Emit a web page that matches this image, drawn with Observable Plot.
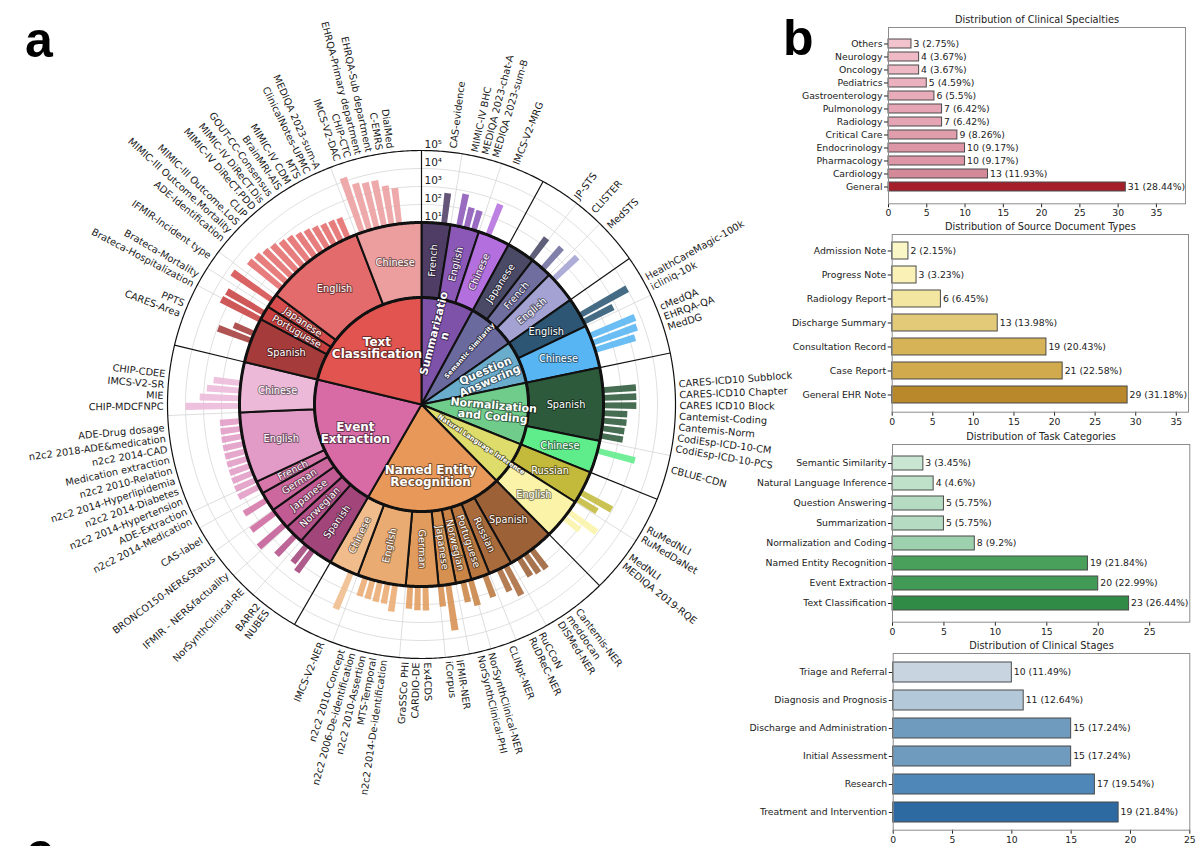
<!DOCTYPE html>
<html>
<head>
<meta charset="utf-8">
<script src="https://cdn.jsdelivr.net/npm/d3@7"></script>
<script src="https://cdn.jsdelivr.net/npm/@observablehq/plot@0.6"></script>
<style>
html,body{margin:0;padding:0;background:#fff}
body{width:1200px;height:846px;position:relative;overflow:hidden;font-family:"DejaVu Sans",sans-serif}
.pane{position:absolute}
</style>
</head>
<body>
<div id="sun" class="pane" style="left:0;top:0"></div>
<div id="c1" class="pane"></div>
<div id="c2" class="pane"></div>
<div id="c3" class="pane"></div>
<div id="c4" class="pane"></div>
<svg class="pane" style="left:0;top:0;pointer-events:none" width="1200" height="846">
  <g font-family="Liberation Sans, Arial, sans-serif" font-weight="bold" font-size="50" fill="#000">
    <text x="25" y="57">a</text>
    <text x="783" y="55">b</text>
    <text x="26" y="868">c</text>
  </g>
</svg>
<script>
// ===================== Panel a data =====================
const tasks = ["Summarization","Semantic Similarity","Question Answering","Normalization and Coding",
  "Natural Language Inference","Named Entity Recognition","Event Extraction","Text Classification"];
const taskLabels = ["Summarizatio\nn","Semantic Similarity","Question\nAnswering","Normalization\nand Coding",
  "Natural Language Inference","Named Entity\nRecognition","Event\nExtraction","Text\nClassification"];
const taskColors = ["#7d52a8","#6b6a9e","#6aaccc","#6fcc8b","#dedd6c","#e8995a","#d86aa6","#e2544f"];

const langTask = [0,0,0, 1,1,1, 2,2, 3,3, 4,4, 5,5,5,5,5,5,5,5, 6,6,6,6,6,6,6, 7,7,7,7,7];
const langNames = ["French","English","Chinese", "Japanese","French","English", "English","Chinese",
  "Spanish","Chinese", "Russian","English",
  "Spanish","Russian","Portuguese","Norwegian","Japanese","German","English","Chinese",
  "Spanish","Norwegian","Japanese","German","French","English","Chinese",
  "Spanish","Portuguese","Japanese","English","Chinese"];
const langSpan = [9.2,9.2,10.2, 9,7,10.3, 9.6,13.8, 23.3,10.3, 10.5,13.1,
  15,7.6,6,5,5.5,10.4,15.5,9.5,
  11.5,6.2,6.9,6.3,4,22.6,16,
  14.5,4.5,4.5,32,21];
const langColors = ["#4f3d66","#8b58b8","#b46fde", "#4a4966","#6f6e9f","#a3a2d2", "#2c5674","#57b5f3",
  "#2d5a3b","#5fec8a", "#c3b93b","#fbf4a8",
  "#9c6137","#aa6b3c","#b9773f","#c98446","#d69050","#e19c5d","#eaab72","#f0bc8c",
  "#a2457b","#b35088","#c25b94","#cd689e","#d676a9","#e29bc6","#ecb9d9",
  "#a53b3b","#c84141","#d54d4d","#e46b6b","#ec9e9e"];

const datasetNames = [
  ["CAS-evidence"],
  ["MIMIC-IV BHC","MEDIQA 2023-chat-A","MEDIQA 2023-sum-B"],
  ["IMCS-V2-MRG"],
  ["JP-STS"],
  ["CLISTER"],
  ["MedSTS"],
  ["HealthCareMagic-100k","icliniq-10k"],
  ["cMedQA","EHRQA-QA","MedDG"],
  ["CARES-ICD10 Subblock","CARES-ICD10 Chapter","CARES ICD10 Block","Cantemist-Coding","Cantemis-Norm","CodiEsp-ICD-10-CM","CodiEsp-ICD-10-PCS"],
  ["CBLUE-CDN"],
  ["RuMedNLI","RuMedDaNet"],
  ["MedNLI","MEDIQA 2019-RQE"],
  ["Cantemis-NER","meddocan","DISMed-NER"],
  ["RuCCoN","RuDReC-NER"],
  ["CLINpt-NER"],
  ["NorSynthClinical-NER","NorSynthClinical-PHI"],
  ["IFMIR-NER","iCorpus"],
  ["Ex4CDS","CARDIO-DE","GraSSCo PHI"],
  ["n2c2 2014-De-identification","MTS-Temporal","n2c2 2010-Assertion","n2c2 2006-De-identification","n2c2 2010-Concept"],
  ["IMCS-V2-NER"],
  ["NUBES","BARR2"],
  ["NorSynthClinical-RE"],
  ["IFMIR - NER&factuality"],
  ["BRONCO150-NER&Status"],
  ["CAS-label"],
  ["n2c2 2014-Medication","ADE-Extraction","n2c2 2014-Hypertension","n2c2 2014-Diabetes","n2c2 2014-Hyperlipidemia","n2c2 2010-Relation","Medication extraction","n2c2 2014-CAD","n2c2 2018-ADE&medication","ADE-Drug dosage"],
  ["CHIP-MDCFNPC","MIE","IMCS-V2-SR","CHIP-CDEE"],
  ["CARES-Area","PPTS"],
  ["Brateca-Hospitalization","Brateca-Mortality"],
  ["IFMIR-Incident type"],
  ["ADE-Identification","MIMIC-III Outcome.Mortality","MIMIC-III Outcome.LoS","CLIP","MIMIC-IV DiReCT.PDD","MIMIC-IV DiReCT.Dis","GOUT-CC-Consensus","BrainMRI-AIS","MIMIC-IV CDM","MTS","ClinicalNotes-UPMC","MEDIQA 2023-sum-A"],
  ["IMCS-V2-DAC","CHIP-CTC","EHRQA-Primary department","EHRQA-Sub department","C-EMRS","DialMed"]
];
const datasetSizes = [
  [520],
  [680,150,135],
  [680],
  [280],
  [370],
  [630],
  [10000,680],
  [5000,4000,2100],
  [690,680,670,215,210,180,175],
  [1400],
  [900,200],
  [850,125],
  [215,190,150],
  [680,225],
  [200],
  [300,145],
  [3700,150],
  [215,210,180],
  [330,140,138,125,120],
  [1600],
  [300,160],
  [310],
  [800],
  [430],
  [280],
  [190,180,170,160,155,150,148,145,140,135],
  [10000,1650,700,330],
  [900,160],
  [2800,2500],
  [5000],
  [2200,1800,1250,1000,700,560,400,320,250,200,180,160],
  [16000,5000,4000,3900,1600,1000]
];
const radialTicks = [10, 100, 1000, 10000, 100000];
const radialTickLabels = ["10\u00b9","10\u00b2","10\u00b3","10\u2074","10\u2075"];

// ===================== Panel b data =====================
const specCats = ["Others","Neurology","Oncology","Pediatrics","Gastroenterology","Pulmonology","Radiology","Critical Care","Endocrinology","Pharmacology","Cardiology","General"];
const specVals = [3,4,4,5,6,7,7,9,10,10,13,31];
const specPcts = ["2.75","3.67","3.67","4.59","5.5","6.42","6.42","8.26","9.17","9.17","11.93","28.44"];
const specColors = ["#f2c2cd","#efbac6","#eeb8c4","#ebb1be","#e8abb9","#e5a5b4","#e5a5b4","#e09dac","#dc96a5","#dc96a5","#d48999","#a51f2a"];

const docCats = ["Admission Note","Progress Note","Radiology Report","Discharge Summary","Consultation Record","Case Report","General EHR Note"];
const docVals = [2,3,6,13,19,21,29];
const docPcts = ["2.15","3.23","6.45","13.98","20.43","22.58","31.18"];
const docColors = ["#fbf6c5","#f9f1b6","#f2e6a1","#e3ca79","#d7b358","#d1aa4d","#b9882b"];

const taskCats = ["Semantic Similarity","Natural Language Inference","Question Answering","Summarization","Normalization and Coding","Named Entity Recognition","Event Extraction","Text Classification"];
const taskVals = [3,4,5,5,8,19,20,23];
const taskPcts = ["3.45","4.6","5.75","5.75","9.2","21.84","22.99","26.44"];
const taskBarColors = ["#c8e6d1","#c0e1c9","#b5dcc2","#b5dcc2","#9dd1ad","#48a05b","#419a55","#308b46"];

const stageCats = ["Triage and Referral","Diagnosis and Prognosis","Discharge and Administration","Initial Assessment","Research","Treatment and Intervention"];
const stageVals = [10,11,15,15,17,19];
const stagePcts = ["11.49","12.64","17.24","17.24","19.54","21.84"];
const stageColors = ["#c8d4df","#b3c9da","#6f9bbf","#6f9bbf","#4f87b8","#2c6aa1"];

const xMaxes = [38.8, 36.5, 28.9, 25];

// ===================== Panel a drawing =====================
const CX = 421, CY = 404, R_IN = 107, R_RING = 182, R_OUT = 254, R_TXT = 258, R_INNER_TXT = 72;
const R_FIT = 400;                       // projection frame radius (keeps outer labels inside the frame)
const W = CX + R_FIT + 10, H = 846;
const DOMAIN_DEG = 90, DEG = DOMAIN_DEG / R_FIT;
const lat = r => 90 - r * DEG;
const lon = t => 180 - t;
const rScale = d3.scaleLog().domain([10, 1e5]).range([R_RING, R_OUT]);

let acc = 0;
const langSegs = langNames.map((name, i) => {
  const t0 = acc; acc += langSpan[i];
  return {i, name, task: langTask[i], t0, t1: acc, mid: (t0 + acc) / 2, span: langSpan[i], color: langColors[i]};
});
const taskSegs = tasks.map((name, k) => {
  const s = langSegs.filter(d => d.task === k);
  const t0 = s[0].t0, t1 = s[s.length - 1].t1;
  return {k, name, label: taskLabels[k], t0, t1, mid: (t0 + t1) / 2, span: t1 - t0, color: taskColors[k]};
});

// bars: one slot per dataset, one empty slot between languages, centred on each task
const SLOT = 2.4, BAR_W = 1.8;
const bars = taskSegs.flatMap(t => {
  const items = [];
  let slot = 0;
  langSegs.filter(s => s.task === t.k).forEach((s, si) => {
    if (si > 0) slot += 1;
    datasetNames[s.i].forEach((name, j) => {
      items.push({name, size: datasetSizes[s.i][j], color: s.color, slot});
      slot += 1;
    });
  });
  const last = slot - 1;
  items.forEach(d => { d.theta = t.mid + (d.slot - last / 2) * SLOT; });
  return items;
});

function wedge(t0, t1, r0, r1, props) {
  const n = Math.max(2, Math.ceil(Math.abs(t1 - t0) / 0.5) + 1);
  const ts = d3.range(n).map(i => t0 + (t1 - t0) * i / (n - 1));
  const ring = [...ts.slice().reverse().map(t => [lon(t), lat(r0)]), ...ts.map(t => [lon(t), lat(r1)])];
  ring.push(ring[0].slice());
  const f = {type: "Feature", properties: props, geometry: {type: "Polygon", coordinates: [ring]}};
  if (d3.geoArea(f) > 2 * Math.PI) ring.reverse();
  return f;
}
const circle = r => d3.geoCircle().center([0, 90]).radius(r * DEG).precision(0.5)();

const barFeatures = bars.map(b => wedge(b.theta - BAR_W / 2, b.theta + BAR_W / 2, R_RING, rScale(b.size), {fill: b.color}));
const langFeatures = langSegs.map(s => wedge(s.t0, s.t1, R_IN, R_RING, {fill: s.color}));
const taskFeatures = taskSegs.map(s => wedge(s.t0, s.t1, 0.001, R_IN, {fill: s.color}));
const taskBounds = taskSegs.map(d => d.t0);
const langBounds = langSegs.filter(s => !taskBounds.includes(s.t0)).map(s => s.t0);

const langHoriz = s => {
  const sn = Math.abs(Math.sin(s.mid * Math.PI / 180));
  return (sn > 0.8 && s.span >= 9.5) || (sn > 0.55 && s.span >= 12) || s.span >= 20;
};
const radialRot = t => (t < 180 ? t - 90 : t - 270);
const maxLine = s => d3.max(s.split("\n"), l => l.length);

const sun = Plot.plot({
  width: W, height: H,
  marginLeft: CX - R_FIT, marginRight: W - CX - R_FIT, marginTop: CY - R_FIT, marginBottom: H - CY - R_FIT,
  projection: {type: "azimuthal-equidistant", rotate: [0, -90], domain: d3.geoCircle().center([0, 90]).radius(DOMAIN_DEG).precision(1)()},
  style: {fontFamily: "DejaVu Sans", overflow: "visible", background: "transparent"},
  marks: [
    Plot.geo([100, 1000, 10000].map(v => circle(rScale(v))), {fill: "none", stroke: "#d6d6d6", strokeWidth: 0.8}),
    Plot.link(langBounds, {x1: t => lon(t), y1: () => lat(R_RING), x2: t => lon(t), y2: () => lat(R_OUT), stroke: "#d6d6d6", strokeWidth: 0.8}),
    Plot.geo(barFeatures, {fill: d => d.properties.fill, fillOpacity: 0.88}),
    Plot.link(taskBounds, {x1: t => lon(t), y1: () => lat(R_RING), x2: t => lon(t), y2: () => lat(R_OUT), stroke: "#111", strokeWidth: 1.2}),
    Plot.geo([circle(R_OUT)], {fill: "none", stroke: "#111", strokeWidth: 1.2}),
    Plot.geo(langFeatures, {fill: d => d.properties.fill, stroke: "#111", strokeWidth: 2, strokeLinejoin: "round"}),
    Plot.geo(taskFeatures, {fill: d => d.properties.fill, stroke: "#111", strokeWidth: 2, strokeLinejoin: "round"}),
    Plot.geo([circle(R_RING), circle(R_IN)], {fill: "none", stroke: "#111", strokeWidth: 3}),
    Plot.text(radialTicks, {x: () => lon(0), y: v => lat(rScale(v) + 6), text: (v, i) => radialTickLabels[i],
      textAnchor: "start", dx: 3, fontSize: 10.5, fill: "#222"}),
    Plot.text(bars.filter(b => b.theta < 180), {x: b => lon(b.theta), y: () => lat(R_TXT), text: "name",
      rotate: b => b.theta - 90, textAnchor: "start", fontSize: 9.8, fill: "#1a1a1a"}),
    Plot.text(bars.filter(b => b.theta >= 180), {x: b => lon(b.theta), y: () => lat(R_TXT), text: "name",
      rotate: b => b.theta - 270, textAnchor: "end", fontSize: 9.8, fill: "#1a1a1a"}),
    Plot.text(langSegs, {x: s => lon(s.mid), y: () => lat((R_IN + R_RING) / 2), text: "name",
      rotate: s => langHoriz(s) ? 0 : radialRot(s.mid), fontSize: 9.8,
      fill: "white", stroke: "rgba(0,0,0,0.45)", strokeWidth: 2, paintOrder: "stroke"}),
    Plot.text(taskSegs, {x: d => lon(d.mid), y: () => lat(R_INNER_TXT), text: "label",
      rotate: d => d.span >= 40 ? 0 : radialRot(d.mid),
      fontSize: d => maxLine(d.label) > 15 ? 6.5 : (d.span >= 40 ? 12 : 11), fontWeight: "bold",
      fill: "white", stroke: "rgba(0,0,0,0.5)", strokeWidth: 2, paintOrder: "stroke"})
  ]
});
document.getElementById("sun").append(sun);

// ===================== Panel b drawing =====================
function barChart(id, o) {
  const data = o.cats.map((c, i) => ({c, v: o.vals[i], p: o.pcts[i], col: o.colors[i]}));
  const mt = 22, mb = 22, left = 740, n = o.cats.length;
  const [fl, fr, ft, fb] = o.frame;
  const el = document.getElementById(id);
  el.style.left = left + "px";
  el.style.top = (ft - mt) + "px";
  el.append(Plot.plot({
    width: 1200 - left, height: fb - ft + mt + mb,
    marginLeft: fl - left, marginRight: 1200 - fr, marginTop: mt, marginBottom: mb,
    style: {fontFamily: "DejaVu Sans", fontSize: "9.3px", background: "transparent", overflow: "visible", color: "#222"},
    x: {domain: [0, o.xMax], ticks: d3.range(0, o.xMax + 0.01, 5), tickFormat: d3.format("d"), tickSize: 4, tickPadding: 2, label: null},
    y: {domain: o.cats, paddingInner: 0.3, paddingOuter: 0.05 * (n - 0.3), tickSize: 4, tickPadding: 2, label: null},
    marks: [
      Plot.barX(data, {x: "v", y: "c", fill: "col", stroke: "#4a4a4a", strokeWidth: 1}),
      Plot.text(data, {x: "v", y: "c", text: d => `${d.v} (${d.p}%)`, textAnchor: "start", dx: 2, fill: "#222"}),
      Plot.frame({stroke: "#8c8c8c"}),
      Plot.text([o.title], {frameAnchor: "top", dy: -4, lineAnchor: "bottom", text: d => d, fontSize: 9.8, fill: "#222"})
    ]
  }));
}
barChart("c1", {title: "Distribution of Clinical Specialties", cats: specCats, vals: specVals, pcts: specPcts, colors: specColors, xMax: xMaxes[0], frame: [888, 1185, 26.7, 203]});
barChart("c2", {title: "Distribution of Source Document Types", cats: docCats, vals: docVals, pcts: docPcts, colors: docColors, xMax: xMaxes[1], frame: [891.7, 1188, 234, 411.7]});
barChart("c3", {title: "Distribution of Task Categories", cats: taskCats, vals: taskVals, pcts: taskPcts, colors: taskBarColors, xMax: xMaxes[2], frame: [892, 1189.3, 444, 621.7]});
barChart("c4", {title: "Distribution of Clinical Stages", cats: stageCats, vals: stageVals, pcts: stagePcts, colors: stageColors, xMax: xMaxes[3], frame: [892.7, 1189.3, 653.3, 830]});
</script>
</body>
</html>
